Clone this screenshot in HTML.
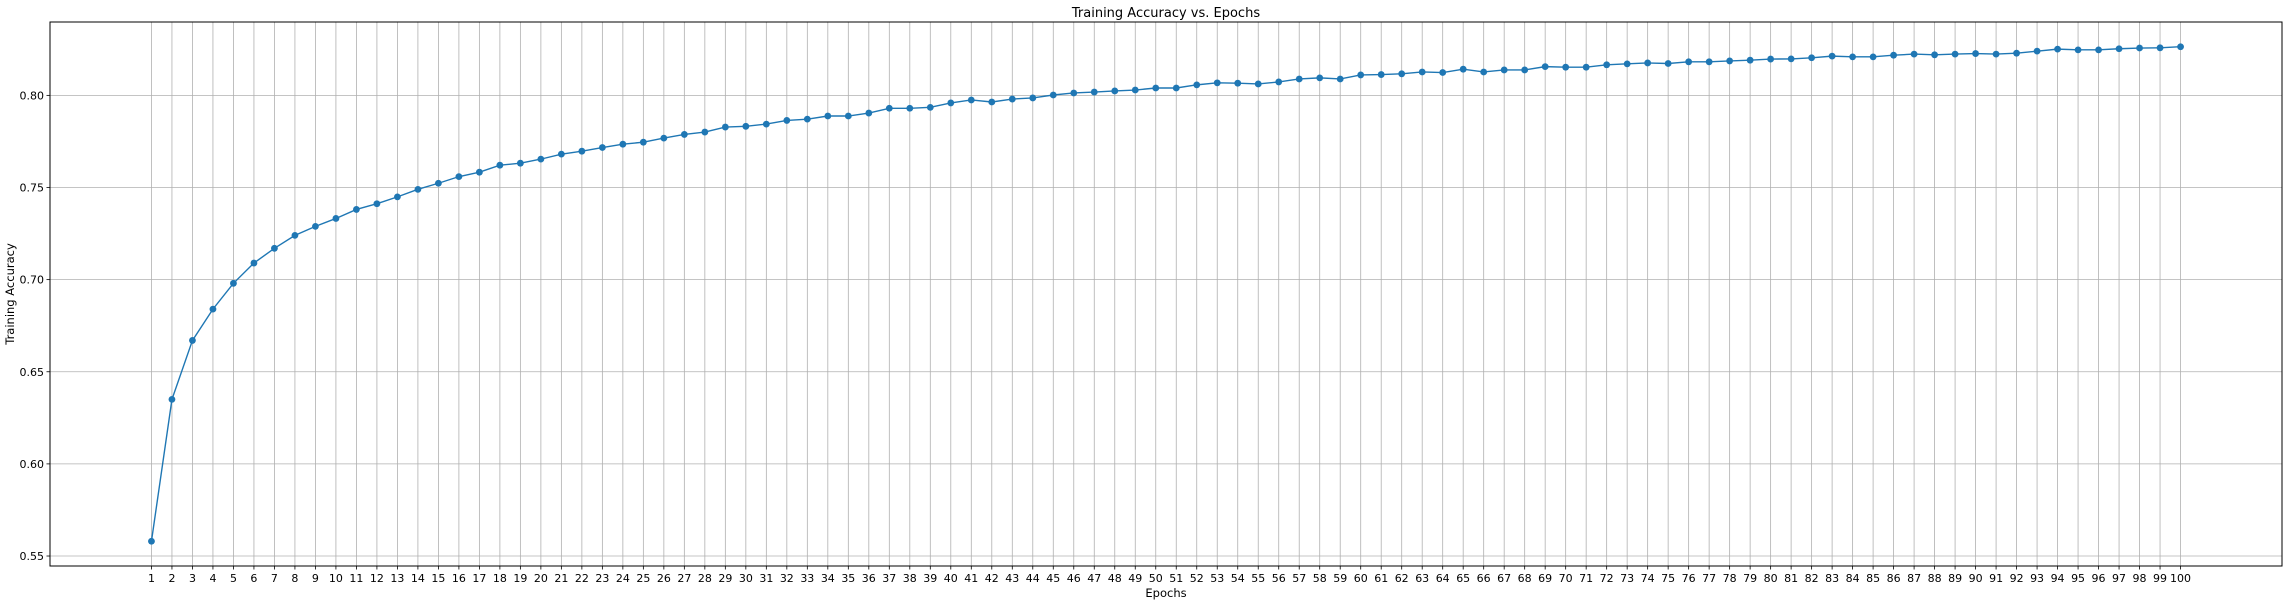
<!DOCTYPE html>
<html><head><meta charset="utf-8"><style>
html,body{margin:0;padding:0;background:#fff;}
svg{display:block;font-family:"DejaVu Sans","Liberation Sans",sans-serif;}
</style></head><body>
<svg id="chart" width="2289" height="604" viewBox="0 0 2289 604" xmlns="http://www.w3.org/2000/svg">
<rect width="2289" height="604" fill="#fff"/>
<g id="grid"></g>
<g id="yticks"></g>
<g id="xticks"></g>
<g id="series"></g>
<rect x="50" y="22" width="2232" height="544" fill="none" stroke="#000" stroke-width="1"/>
<text x="1166" y="17" text-anchor="middle" font-size="13" fill="#000">Training Accuracy vs. Epochs</text>
<text x="1166" y="597" text-anchor="middle" font-size="11.5" fill="#000">Epochs</text>
<text transform="translate(14,294) rotate(-90)" text-anchor="middle" font-size="11.5" fill="#000">Training Accuracy</text>
</svg>
<script>
const epochs = Array.from({length:100},(_,i)=>i+1);
const accuracy = [0.558,0.635,0.667,0.684,0.698,0.709,0.717,0.724,0.7289,0.7332,
0.7381,0.7412,0.7449,0.7490,0.7523,0.7559,0.7583,0.7621,0.7632,0.7654,
0.7681,0.7697,0.7717,0.7735,0.7746,0.7768,0.7788,0.7801,0.7828,0.7832,
0.7844,0.7864,0.7871,0.7888,0.7888,0.7904,0.7930,0.7930,0.7935,0.7959,
0.7975,0.7964,0.7980,0.7986,0.8002,0.8013,0.8018,0.8024,0.8029,0.8040,
0.8040,0.8057,0.8068,0.8066,0.8062,0.8073,0.8089,0.8095,0.8089,0.8111,
0.8113,0.8117,0.8127,0.8124,0.8142,0.8127,0.8138,0.8138,0.8156,0.8153,
0.8153,0.8166,0.8171,0.8176,0.8173,0.8182,0.8182,0.8187,0.8191,0.8197,
0.8198,0.8204,0.8213,0.8209,0.8209,0.8218,0.8224,0.8220,0.8224,0.8227,
0.8224,0.8229,0.8240,0.8251,0.8247,0.8247,0.8253,0.8257,0.8258,0.8264];
const yTickValues = [0.55,0.60,0.65,0.70,0.75,0.80];
const yTickLabels = ["0.55","0.60","0.65","0.70","0.75","0.80"];

const NS="http://www.w3.org/2000/svg";
const L=50,R=2282,T=22,B=566;
const xmin=1,xmax=100,xpad=(xmax-xmin)*0.05;
const ymin=Math.min(...accuracy),ymax=Math.max(...accuracy),ypad=(ymax-ymin)*0.05;
const xs=v=>L+(v-(xmin-xpad))/((xmax+xpad)-(xmin-xpad))*(R-L);
const ys=v=>B-(v-(ymin-ypad))/((ymax+ypad)-(ymin-ypad))*(B-T);
function mk(tag,attrs,parent){const e=document.createElementNS(NS,tag);for(const k in attrs)e.setAttribute(k,attrs[k]);parent.appendChild(e);return e;}
const grid=document.getElementById('grid'),yt=document.getElementById('yticks'),xt=document.getElementById('xticks'),ser=document.getElementById('series');
yTickValues.forEach((v,i)=>{
  const y=ys(v);
  const g=mk('line',{x1:L,x2:R,y1:y,y2:y,stroke:'#b0b0b0','stroke-width':0.8},grid);
  
  
  mk('line',{x1:L-3.5,x2:L,y1:y,y2:y,stroke:'#000','stroke-width':0.8},yt);
  const t=mk('text',{x:L-6,y:y+4,'text-anchor':'end','font-size':11,fill:'#000'},yt);
  t.textContent=yTickLabels[i];
  
  
});
epochs.forEach(e=>{
  const x=xs(e);
  const g=mk('line',{x1:x,x2:x,y1:T,y2:B,stroke:'#b0b0b0','stroke-width':0.8},grid);
  
  
  mk('line',{x1:x,x2:x,y1:B,y2:B+3.5,stroke:'#000','stroke-width':0.8},xt);
  const t=mk('text',{x:x,y:B+16,'text-anchor':'middle','font-size':11,fill:'#000'},xt);
  t.textContent=String(e);
  
  
});
const pts=epochs.map((e,i)=>xs(e)+','+ys(accuracy[i])).join(' ');
const line=mk('polyline',{points:pts,fill:'none',stroke:'#1f77b4','stroke-width':1.4},ser);


epochs.forEach((e,i)=>{
  const c=mk('circle',{cx:xs(e),cy:ys(accuracy[i]),r:3.4,fill:'#1f77b4'},ser);
  
  
});
</script>
</body></html>
